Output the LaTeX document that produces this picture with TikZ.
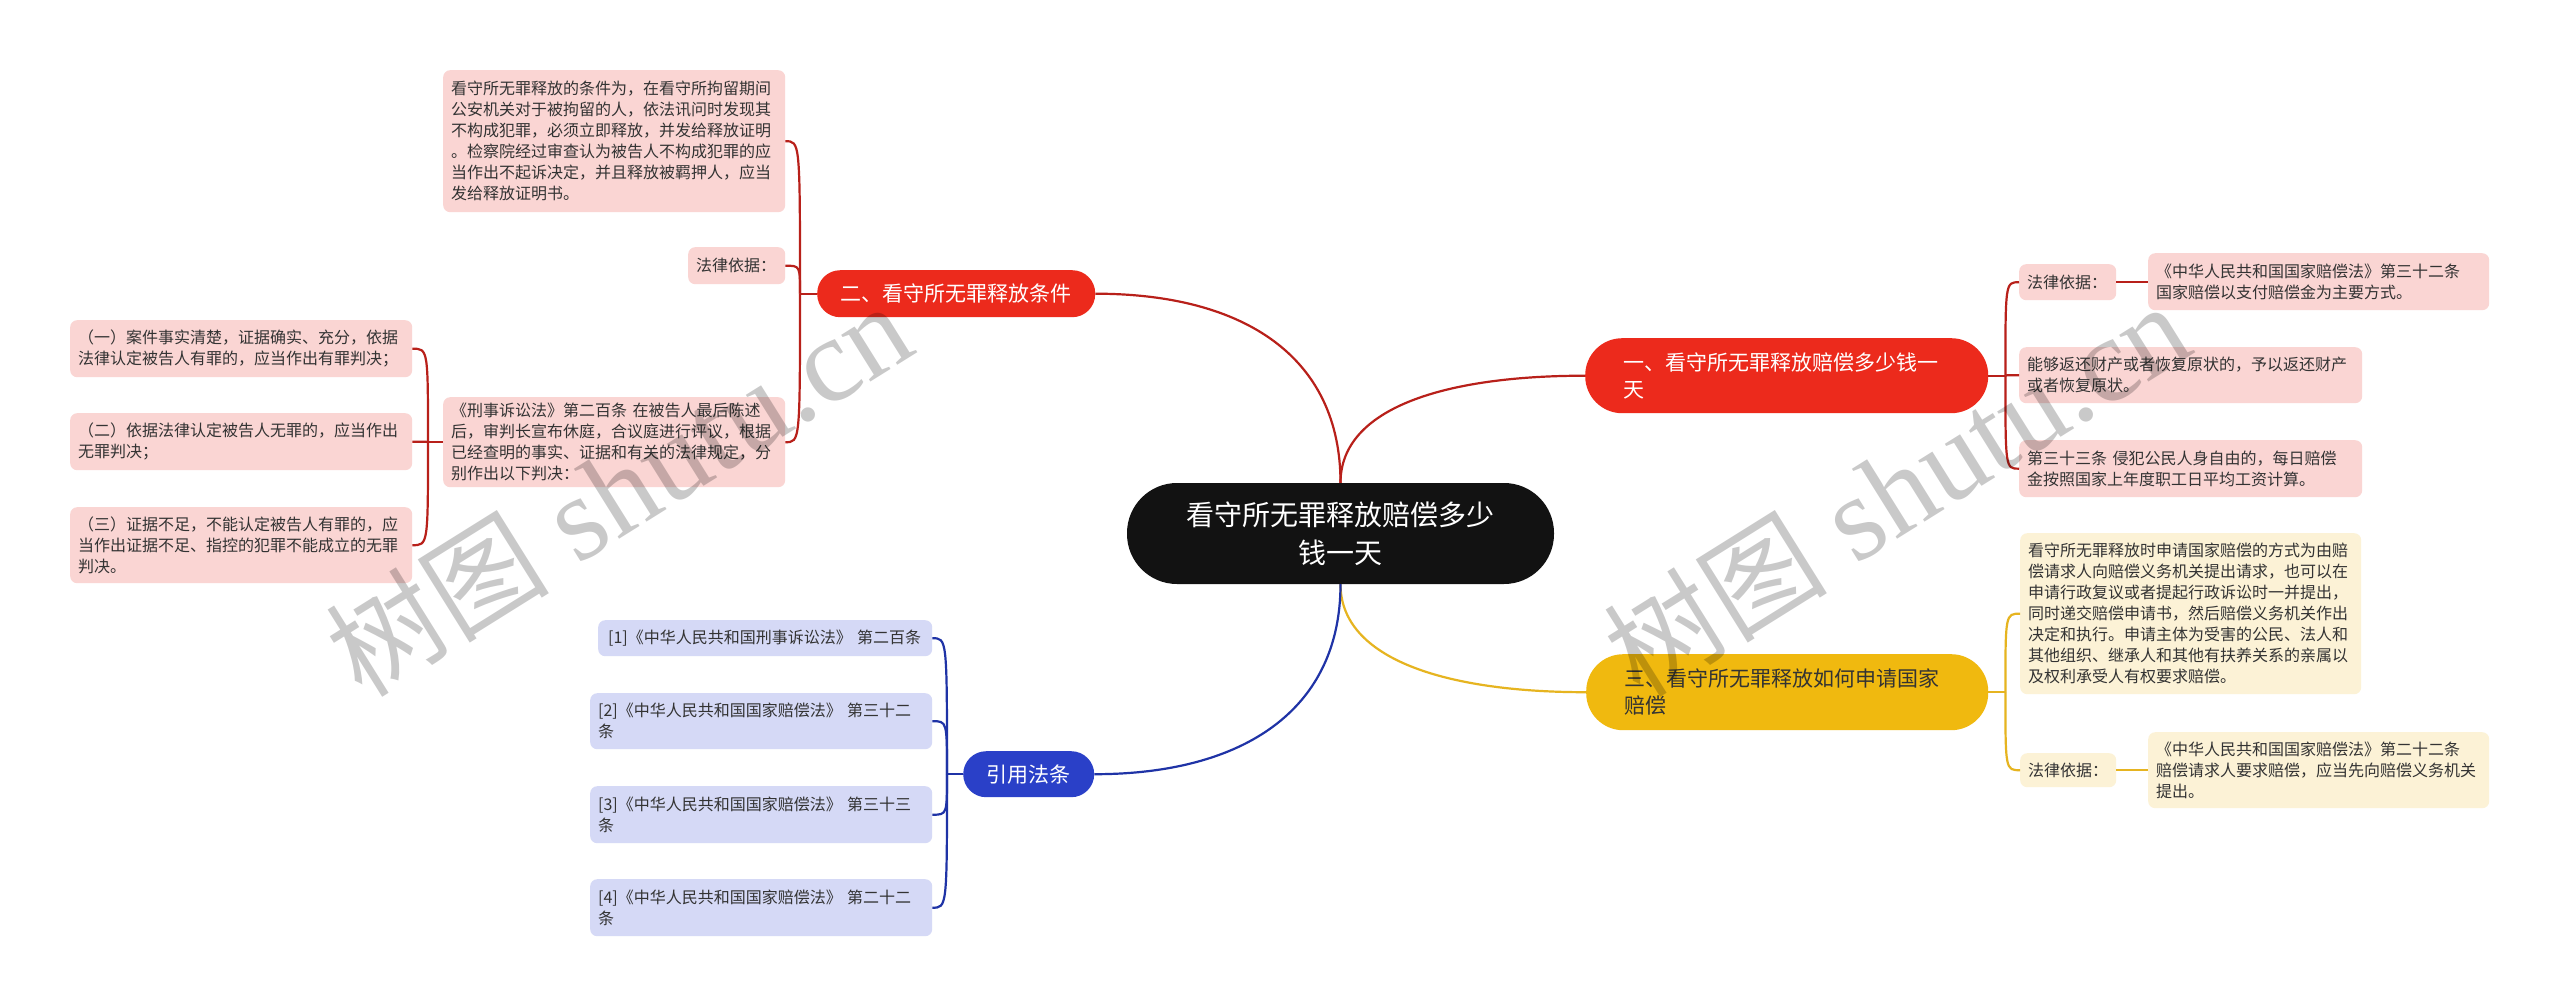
\documentclass[tikz,border=0pt]{standalone}
\usepackage{fontspec}
\setmainfont{Liberation Sans}
\newfontfamily\cjk{Noto Sans CJK SC}
\newfontfamily\wmserif{Liberation Serif}
\definecolor{redB}{HTML}{EC2A1C}
\definecolor{redL}{HTML}{B8201A}
\definecolor{pinkL}{HTML}{FAD5D3}
\definecolor{yelB}{HTML}{F0B90F}
\definecolor{yelL}{HTML}{E6B420}
\definecolor{yelLeaf}{HTML}{FCF2D6}
\definecolor{bluB}{HTML}{2A40C8}
\definecolor{bluL}{HTML}{1F33A6}
\definecolor{lavL}{HTML}{D5D9F6}
\definecolor{txt}{HTML}{333333}
\tikzset{
  leafbox/.style={rounded corners=7pt, inner xsep=8pt, inner ysep=0pt, align=left, anchor=north west,
     font=\cjk\fontsize{16}{21}\selectfont, text=txt},
  pinkbox/.style={leafbox, fill=pinkL},
  yelbox/.style={leafbox, fill=yelLeaf},
  lavbox/.style={leafbox, fill=lavL},
  branchbox/.style={inner ysep=0pt, anchor=north west, font=\cjk\fontsize{21}{27}\selectfont},
  redline/.style={draw=redL, line width=2.2pt},
  yelline/.style={draw=yelL, line width=2.2pt},
  bluline/.style={draw=bluL, line width=2.2pt},
  wmark/.style={rotate=32, anchor=base west, inner sep=0pt, text=black, text opacity=0.21},
}
\begin{document}
\begin{tikzpicture}[x=1pt,y=-1pt]
\fill[white] (0,0) rectangle (2560,1007);
\useasboundingbox (0,0) rectangle (2560,1007);

% central
\node[fill=black!93, text=white, rounded corners=50pt, minimum width=427pt, minimum height=101pt,
  inner sep=0pt, align=center, font=\cjk\fontsize{28}{38}\selectfont] (c) at (1340.5,533.5)
  {看守所无罪释放赔偿多少\\钱一天};

% branches
\node[branchbox, fill=redB, text=white, rounded corners=37pt, inner xsep=38pt, text width=327pt,
  minimum height=75pt, align=left] (b1) at (1585,338) {一、看守所无罪释放赔偿多少钱一\\天};
\node[branchbox, fill=redB, text=white, rounded corners=23pt, inner xsep=0pt, minimum width=278pt,
  minimum height=47pt, align=center] (b2) at (817,270) {二、看守所无罪释放条件};
\node[branchbox, fill=yelB, text=txt, rounded corners=37pt, inner xsep=38pt, text width=326pt,
  minimum height=76pt, align=left] (b3) at (1586,654) {三、看守所无罪释放如何申请国家\\赔偿};
\node[branchbox, fill=bluB, text=white, rounded corners=23pt, inner xsep=0pt, minimum width=131pt,
  minimum height=46pt, align=center] (b4) at (963,751) {引用法条};

% left red leaves
\node[pinkbox, text width=326pt, minimum height=142pt] (L1) at (443,70)
  {看守所无罪释放的条件为，在看守所拘留期间\\公安机关对于被拘留的人，依法讯问时发现其\\不构成犯罪，必须立即释放，并发给释放证明\\。检察院经过审查认为被告人不构成犯罪的应\\当作出不起诉决定，并且释放被羁押人，应当\\发给释放证明书。};
\node[pinkbox, text width=81pt, minimum height=37pt] (L2) at (688,247) {法律依据：};
\node[pinkbox, text width=326pt, minimum height=90pt] (L3) at (443,397)
  {《刑事诉讼法》第二百条~在被告人最后陈述\\后，审判长宣布休庭，合议庭进行评议，根据\\已经查明的事实、证据和有关的法律规定，分\\别作出以下判决：};
\node[pinkbox, text width=326pt, minimum height=57pt] (S1) at (70,320)
  {（一）案件事实清楚，证据确实、充分，依据\\法律认定被告人有罪的，应当作出有罪判决；};
\node[pinkbox, text width=326pt, minimum height=57pt] (S2) at (70,413)
  {（二）依据法律认定被告人无罪的，应当作出\\无罪判决；};
\node[pinkbox, text width=326pt, minimum height=76pt] (S3) at (70,507)
  {（三）证据不足，不能认定被告人有罪的，应\\当作出证据不足、指控的犯罪不能成立的无罪\\判决。};

% citations
\node[lavbox, inner xsep=10pt, text width=314pt, minimum height=36pt] (C1) at (598,620)
  {[1]《中华人民共和国刑事诉讼法》~第二百条};
\node[lavbox, text width=326pt, minimum height=56pt] (C2) at (590,693)
  {[2]《中华人民共和国国家赔偿法》~第三十二\\条};
\node[lavbox, text width=326pt, minimum height=57pt] (C3) at (590,786)
  {[3]《中华人民共和国国家赔偿法》~第三十三\\条};
\node[lavbox, text width=326pt, minimum height=57pt] (C4) at (590,879)
  {[4]《中华人民共和国国家赔偿法》~第二十二\\条};

% right red leaves
\node[pinkbox, text width=81pt, minimum height=36pt] (R1) at (2019,264) {法律依据：};
\node[pinkbox, text width=325pt, minimum height=57pt] (R1b) at (2148,253)
  {《中华人民共和国国家赔偿法》第三十二条\\国家赔偿以支付赔偿金为主要方式。};
\node[pinkbox, text width=327pt, minimum height=56pt] (R2) at (2019,347)
  {能够返还财产或者恢复原状的，予以返还财产\\或者恢复原状。};
\node[pinkbox, text width=327pt, minimum height=57pt] (R3) at (2019,440)
  {第三十三条~侵犯公民人身自由的，每日赔偿\\金按照国家上年度职工日平均工资计算。};

% right yellow leaves
\node[yelbox, text width=325pt, minimum height=161pt] (Y1) at (2020,533)
  {看守所无罪释放时申请国家赔偿的方式为由赔\\偿请求人向赔偿义务机关提出请求，也可以在\\申请行政复议或者提起行政诉讼时一并提出，\\同时递交赔偿申请书，然后赔偿义务机关作出\\决定和执行。申请主体为受害的公民、法人和\\其他组织、继承人和其他有扶养关系的亲属以\\及权利承受人有权要求赔偿。};
\node[yelbox, text width=80pt, minimum height=34pt] (Y2) at (2020,753) {法律依据：};
\node[yelbox, text width=325pt, minimum height=76pt] (Y2b) at (2148,732)
  {《中华人民共和国国家赔偿法》第二十二条\\赔偿请求人要求赔偿，应当先向赔偿义务机关\\提出。};

% main connectors
\draw[redline] (c.north) .. controls +(0,-125) and +(150,0) .. (b2.east);
\draw[redline] (c.north) .. controls +(0,-75) and +(-140,0) .. (b1.west);
\draw[yelline] (c.south) .. controls +(0,75) and +(-140,0) .. (b3.west);
\draw[bluline] (c.south) .. controls +(0,125) and +(150,0) .. (b4.east);

% junctions
\coordinate (j2) at ([xshift=-17pt]b2.west);
\coordinate (j3) at ([xshift=-15pt]L3.west);
\coordinate (j1) at ([xshift=17pt]b1.east);
\coordinate (jy) at ([xshift=17pt]b3.east);
\coordinate (j4) at ([xshift=-16pt]b4.west);

% left red sub-branches
\draw[redline] (b2.west) -- (j2);
\foreach \n in {L1,L2,L3}
  \draw[redline] (j2) .. controls (j2 |- \n.east) .. (\n.east);
\draw[redline] (L3.west) -- (j3);
\foreach \n in {S1,S2,S3}
  \draw[redline] (j3) .. controls (j3 |- \n.east) .. (\n.east);

% right red sub-branches
\draw[redline] (b1.east) -- (j1);
\foreach \n in {R1,R2,R3}
  \draw[redline] (j1) .. controls (j1 |- \n.west) .. (\n.west);
\draw[redline] (R1.east) -- (R1b.west |- R1.east);

% yellow sub-branches
\draw[yelline] (b3.east) -- (jy);
\foreach \n in {Y1,Y2}
  \draw[yelline] (jy) .. controls (jy |- \n.west) .. (\n.west);
\draw[yelline] (Y2.east) -- (Y2b.west |- Y2.east);

% blue sub-branches
\draw[bluline] (b4.west) -- (j4);
\foreach \n in {C1,C2,C3,C4}
  \draw[bluline] (j4) .. controls (j4 |- \n.east) .. (\n.east);

% watermarks
\node[wmark] (wm1) at (362,700)
  {{\cjk\fontsize{112}{112}\selectfont 树图}{\wmserif\fontsize{120}{120}\selectfont\ shutu.cn}};
\node[wmark] (wm2) at (1640,700)
  {{\cjk\fontsize{112}{112}\selectfont 树图}{\wmserif\fontsize{120}{120}\selectfont\ shutu.cn}};
\end{tikzpicture}
\end{document}
